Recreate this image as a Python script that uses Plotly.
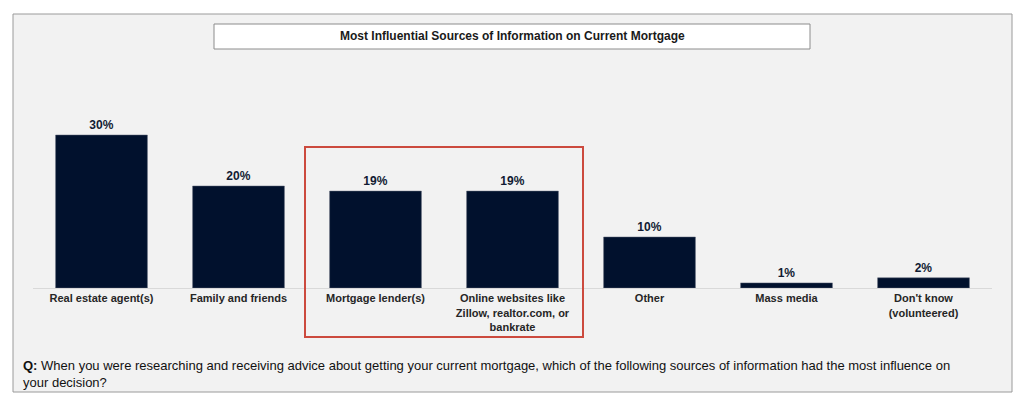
import plotly.graph_objects as go

categories = ["Real estate agent(s)", "Family and friends", "Mortgage lender(s)",
              "Online websites like<br>Zillow, realtor.com, or<br>bankrate",
              "Other", "Mass media", "Don't know<br>(volunteered)"]
values = [30, 20, 19, 19, 10, 1, 2]
title_text = "Most Influential Sources of Information on Current Mortgage"
question = ("<b>Q:</b> When you were researching and receiving advice about getting your current mortgage, "
            "which of the following sources of information had the most influence on<br>your decision?")

# page body has an 8px margin; figure coordinates below are in page pixels
OFF = 8
W, H = 1020, 401
def px(x): return (x - OFF) / W
def py(y): return 1 - (y - OFF) / H

fig = go.Figure()
fig.add_trace(go.Bar(
    x=list(range(len(categories))), y=values,
    marker=dict(color="#01112D", line=dict(color="#5A6375", width=0.5)),
    width=0.67,
    text=[f"{v}%" for v in values], textposition="outside",
    textfont=dict(family="Liberation Sans, Arial", size=12, color="#111B33"),
    texttemplate="<b>%{text}</b>", cliponaxis=False,
    hoverinfo="skip",
))

shapes = [
    dict(type="rect", xref="paper", yref="paper", x0=px(13), x1=px(1012), y0=py(392), y1=py(14),
         fillcolor="#F2F2F2", line=dict(color="#9A9A9A", width=1), layer="below"),
    dict(type="rect", xref="paper", yref="paper", x0=px(214), x1=px(810), y0=py(49), y1=py(24),
         fillcolor="white", line=dict(color="#8C8C8C", width=1)),
    dict(type="rect", xref="paper", yref="paper", x0=px(305), x1=px(583), y0=py(337), y1=py(147),
         fillcolor="rgba(0,0,0,0)", line=dict(color="#CC4A3E", width=2)),
]

annotations = [
    dict(text=f"<b>{title_text}</b>", xref="paper", yref="paper", x=px(512), y=py(36.5),
         showarrow=False, font=dict(family="Liberation Sans, Arial", size=12, color="#1A1A1A"),
         xanchor="center", yanchor="middle"),
    dict(text=question, xref="paper", yref="paper", x=px(21), y=py(356),
         showarrow=False, align="left", xanchor="left", yanchor="top",
         font=dict(family="Liberation Sans, Arial", size=13, color="#111111")),
]

fig.update_layout(
    width=W, height=H,
    margin=dict(l=0, r=0, t=0, b=0),
    paper_bgcolor="white", plot_bgcolor="rgba(0,0,0,0)",
    showlegend=False,
    shapes=shapes, annotations=annotations,
    xaxis=dict(domain=[px(33), px(992)], range=[-0.5, 6.5],
               tickmode="array", tickvals=list(range(len(categories))),
               ticktext=[f"<b>{c}</b>" for c in categories],
               tickfont=dict(family="Liberation Sans, Arial", size=11, color="#262626"),
               showline=True, linecolor="#D9D9D9", linewidth=1,
               ticks="", showgrid=False, zeroline=False, fixedrange=True),
    yaxis=dict(domain=[py(288), py(110)], range=[0, 178 / 5.1],
               visible=False, showgrid=False, zeroline=False, fixedrange=True),
)

fig.write_html("out.html")
